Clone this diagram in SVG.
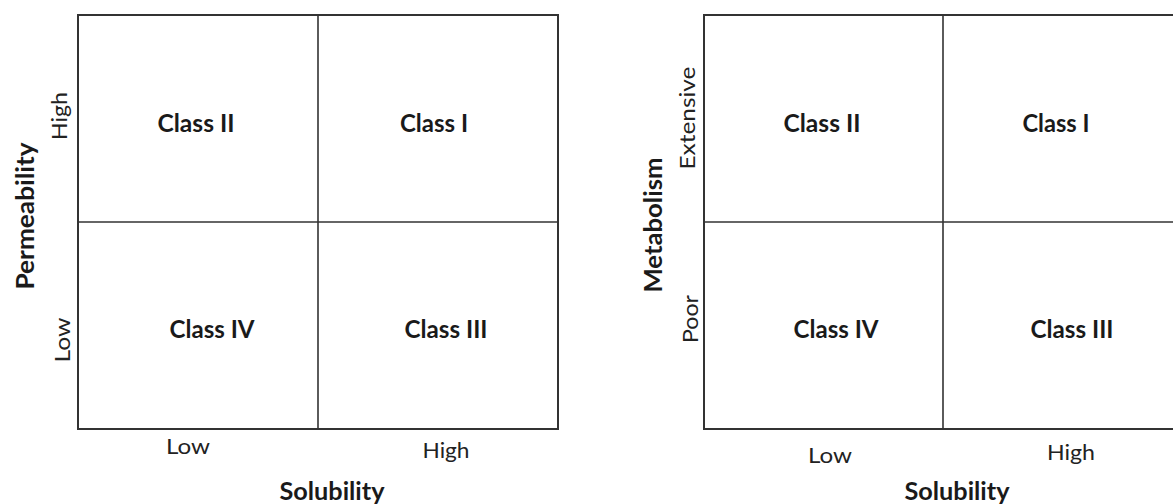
<svg xmlns="http://www.w3.org/2000/svg" width="1173" height="504" viewBox="0 0 1173 504">
  <style>
    .grid { fill: none; stroke: #333; stroke-width: 2; }
    .div { stroke: #333; stroke-width: 1.6; }
    .cls { font-family: Lato, "Liberation Sans", sans-serif; font-weight: bold; font-size: 24px; fill: #1a1a1a; text-anchor: middle; }
    .val { font-family: Lato, "Liberation Sans", sans-serif; font-size: 21px; fill: #222; text-anchor: middle; }
    .axis { font-family: Lato, "Liberation Sans", sans-serif; font-weight: bold; font-size: 24px; fill: #1a1a1a; text-anchor: middle; }
  </style>
  <rect width="1173" height="504" fill="#fff"/>

  <g id="chart-left">
    <rect class="grid" x="78" y="15" width="480" height="414"/>
    <line class="div" x1="318" y1="15" x2="318" y2="429"/>
    <line class="div" x1="78" y1="222" x2="558" y2="222"/>
  </g>
  <g id="left-labels">
    <g id="l-class2"><text class="cls" x="196" y="132" textLength="77" lengthAdjust="spacingAndGlyphs">Class II</text></g>
    <g id="l-class1"><text class="cls" x="434" y="132" textLength="68" lengthAdjust="spacingAndGlyphs">Class I</text></g>
    <g id="l-class4"><text class="cls" x="212" y="338" textLength="85" lengthAdjust="spacingAndGlyphs">Class IV</text></g>
    <g id="l-class3"><text class="cls" x="446" y="338" textLength="83" lengthAdjust="spacingAndGlyphs">Class III</text></g>
    <text class="val" x="188" y="454" textLength="44" lengthAdjust="spacingAndGlyphs">Low</text>
    <text class="val" x="446" y="458" textLength="47" lengthAdjust="spacingAndGlyphs">High</text>
    <text class="axis" x="332" y="500" textLength="105" lengthAdjust="spacingAndGlyphs">Solubility</text>
    <text class="val" transform="translate(67,116) rotate(-90)" textLength="48" lengthAdjust="spacingAndGlyphs">High</text>
    <text class="val" transform="translate(70,340) rotate(-90)" textLength="45" lengthAdjust="spacingAndGlyphs">Low</text>
    <text class="axis" transform="translate(34,216) rotate(-90)" textLength="147" lengthAdjust="spacingAndGlyphs">Permeability</text>
  </g>

  <g id="chart-right">
    <path class="grid" d="M1175,15 H704 V429 H1175"/>
    <line class="div" x1="943" y1="15" x2="943" y2="429"/>
    <line class="div" x1="704" y1="222" x2="1175" y2="222"/>
  </g>
  <g id="right-labels">
    <g id="r-class2"><text class="cls" x="822" y="132" textLength="77" lengthAdjust="spacingAndGlyphs">Class II</text></g>
    <g id="r-class1"><text class="cls" x="1056" y="132" textLength="67" lengthAdjust="spacingAndGlyphs">Class I</text></g>
    <g id="r-class4"><text class="cls" x="836" y="338" textLength="85" lengthAdjust="spacingAndGlyphs">Class IV</text></g>
    <g id="r-class3"><text class="cls" x="1072" y="338" textLength="83" lengthAdjust="spacingAndGlyphs">Class III</text></g>
    <text class="val" x="830" y="463" textLength="44" lengthAdjust="spacingAndGlyphs">Low</text>
    <text class="val" x="1071" y="460" textLength="48" lengthAdjust="spacingAndGlyphs">High</text>
    <text class="axis" x="957" y="500" textLength="105" lengthAdjust="spacingAndGlyphs">Solubility</text>
    <text class="val" transform="translate(695,118) rotate(-90)" textLength="103" lengthAdjust="spacingAndGlyphs">Extensive</text>
    <text class="val" transform="translate(698,319) rotate(-90)" textLength="48" lengthAdjust="spacingAndGlyphs">Poor</text>
    <text class="axis" transform="translate(662,225) rotate(-90)" textLength="135" lengthAdjust="spacingAndGlyphs">Metabolism</text>
  </g>
</svg>
